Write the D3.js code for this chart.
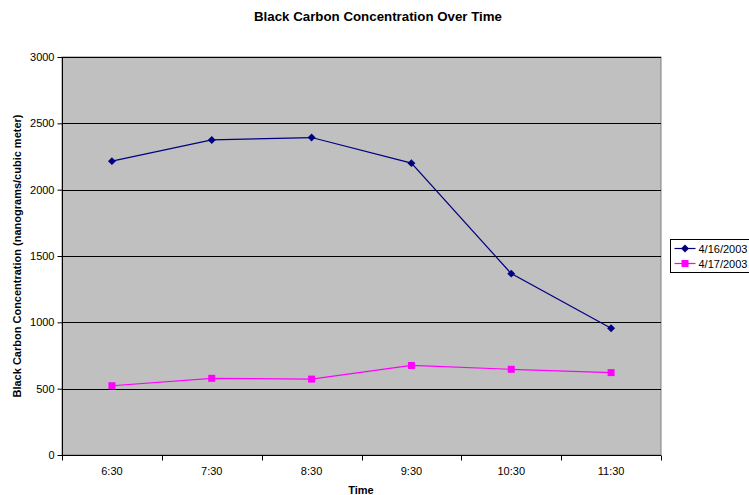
<!DOCTYPE html>
<html>
<head>
<meta charset="utf-8">
<script src="https://cdn.jsdelivr.net/npm/d3@7"></script>
<style>
  body { margin: 0; background: #fff; }
  svg { display: block; font-family: Arial, "Liberation Sans", sans-serif; }
</style>
</head>
<body>
<script>
// chart data
var times = ["6:30", "7:30", "8:30", "9:30", "10:30", "11:30"];
var day1 = [2215, 2375, 2393, 2200, 1367, 955];
var day2 = [522, 578, 572, 675, 646, 621];
var seriesNames = ["4/16/2003", "4/17/2003"];
var yTicks = [0, 500, 1000, 1500, 2000, 2500, 3000];

var W = 749, H = 495;
var plot = { left: 62, top: 57, right: 661, bottom: 455 };

var svg = d3.select("body").append("svg")
  .attr("width", W).attr("height", H);

var x = d3.scaleBand().domain(times).range([plot.left, plot.right]);
var y = d3.scaleLinear().domain([0, 3000]).range([plot.bottom, plot.top]);

// grey plot background
svg.append("rect")
  .attr("x", plot.left).attr("y", plot.top)
  .attr("width", plot.right - plot.left).attr("height", plot.bottom - plot.top)
  .style("fill", "#c0c0c0").style("stroke", "#808080").style("stroke-width", 1);

// gridlines
svg.selectAll(".grid").data(yTicks.filter(function(d){ return d > 0; }))
  .enter().append("line")
  .attr("x1", plot.left).attr("x2", plot.right)
  .attr("y1", function(d){ return Math.round(y(d)) + 0.5; })
  .attr("y2", function(d){ return Math.round(y(d)) + 0.5; })
  .style("stroke", "#000").style("stroke-width", 1);

// y axis
var yAxis = svg.append("g")
  .attr("transform", "translate(" + (plot.left + 0.5) + ",0)")
  .call(d3.axisLeft(y).tickValues(yTicks).tickSize(5).tickPadding(3).tickFormat(d3.format("d")));
yAxis.selectAll("text").style("font-size", "11px").style("fill", "#000");
yAxis.selectAll("line, path").style("stroke", "#000");
yAxis.select(".domain").attr("d", "M0," + plot.top + "V" + plot.bottom);

// x axis -- ticks at band edges, labels at centres
var xg = svg.append("g").attr("transform", "translate(0," + (plot.bottom + 0.5) + ")");
xg.append("line").attr("x1", plot.left).attr("x2", plot.right)
  .style("stroke", "#000");
var edges = times.map(function(t){ return x(t); }).concat([plot.right]);
xg.selectAll(".tk").data(edges).enter().append("line")
  .attr("x1", function(d){ return Math.round(d) + 0.5; })
  .attr("x2", function(d){ return Math.round(d) + 0.5; })
  .attr("y1", 0).attr("y2", 5).style("stroke", "#000");
xg.selectAll(".lb").data(times).enter().append("text")
  .attr("x", function(d){ return x(d) + x.bandwidth() / 2; })
  .attr("y", 19).attr("text-anchor", "middle")
  .style("font-size", "11px").text(function(d){ return d; });

// lines
var cx = function(d, i){ return x(times[i]) + x.bandwidth() / 2; };
var line = d3.line().x(cx).y(function(d){ return y(d); });

svg.append("path").datum(day1).attr("d", line)
  .style("fill", "none").style("stroke", "#000080").style("stroke-width", 1.2);
svg.append("path").datum(day2).attr("d", line)
  .style("fill", "none").style("stroke", "#ff00ff").style("stroke-width", 1.2);

// markers
var diamond = d3.symbol().type(d3.symbolDiamond2).size(40);
svg.selectAll(".m1").data(day1).enter().append("path")
  .attr("d", diamond)
  .attr("transform", function(d, i){ return "translate(" + cx(d, i) + "," + y(d) + ")"; })
  .style("fill", "#000080");
svg.selectAll(".m2").data(day2).enter().append("rect")
  .attr("x", function(d, i){ return cx(d, i) - 3.5; })
  .attr("y", function(d){ return y(d) - 3.5; })
  .attr("width", 7).attr("height", 7)
  .style("fill", "#ff00ff");

// title and axis labels
svg.append("text").attr("x", 378).attr("y", 21).attr("text-anchor", "middle")
  .style("font-size", "13.3px").style("font-weight", "bold").text("Black Carbon Concentration Over Time");
svg.append("text").attr("x", 361).attr("y", 494).attr("text-anchor", "middle")
  .style("font-size", "11px").style("font-weight", "bold").text("Time");
svg.append("text").attr("transform", "translate(21," + (plot.top + plot.bottom) / 2 + ") rotate(-90)")
  .attr("text-anchor", "middle")
  .style("font-size", "11px").style("font-weight", "bold").text("Black Carbon Concentration (nanograms/cubic meter)");

// legend
var lg = svg.append("g").attr("transform", "translate(670.5,239.5)");
lg.append("rect").attr("width", 85).attr("height", 33)
  .style("fill", "#fff").style("stroke", "#000");
var colors = ["#000080", "#ff00ff"];
seriesNames.forEach(function(name, i){
  var yy = 9 + i * 15;
  lg.append("line").attr("x1", 4).attr("x2", 25).attr("y1", yy).attr("y2", yy)
    .style("stroke", colors[i]).style("stroke-width", 1.2);
  if (i == 0) {
    lg.append("path").attr("d", diamond).attr("transform", "translate(14.5," + yy + ")")
      .style("fill", colors[i]);
  } else {
    lg.append("rect").attr("x", 11).attr("y", yy - 3.5).attr("width", 7).attr("height", 7)
      .style("fill", colors[i]);
  }
  lg.append("text").attr("x", 28).attr("y", yy + 4)
    .style("font-size", "11px").text(name);
});
</script>
</body>
</html>
